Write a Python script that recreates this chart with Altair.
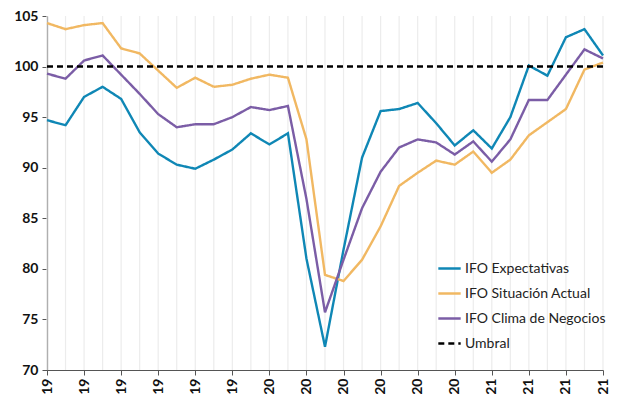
import altair as alt
import pandas as pd

# Monthly, Jan 2019 .. Jul 2021
months = ["2019-01","2019-02","2019-03","2019-04","2019-05","2019-06","2019-07","2019-08",
          "2019-09","2019-10","2019-11","2019-12","2020-01","2020-02","2020-03","2020-04",
          "2020-05","2020-06","2020-07","2020-08","2020-09","2020-10","2020-11","2020-12",
          "2021-01","2021-02","2021-03","2021-04","2021-05","2021-06","2021-07"]
tick_labels = ["19","19","19","19","19","19","20","20","20","20","20","20","21","21","21","21"]

expectativas = [94.7, 94.2, 97.0, 98.0, 96.8, 93.5, 91.4, 90.3, 89.9, 90.8, 91.8, 93.4,
                92.3, 93.4, 81.0, 72.3, 81.9, 91.0, 95.6, 95.8, 96.4, 94.4, 92.2, 93.7,
                91.9, 95.0, 100.1, 99.1, 102.9, 103.7, 101.1]
situacion = [104.3, 103.7, 104.1, 104.3, 101.8, 101.3, 99.6, 97.9, 98.9, 98.0, 98.2, 98.8,
             99.2, 98.9, 92.8, 79.4, 78.8, 80.9, 84.2, 88.2, 89.5, 90.7, 90.3, 91.6,
             89.5, 90.8, 93.2, 94.5, 95.8, 99.7, 100.4]
clima = [99.3, 98.8, 100.6, 101.1, 99.2, 97.3, 95.3, 94.0, 94.3, 94.3, 95.0, 96.0,
         95.7, 96.1, 86.9, 75.7, 80.9, 86.0, 89.6, 92.0, 92.8, 92.5, 91.3, 92.6,
         90.6, 92.8, 96.7, 96.7, 99.2, 101.7, 100.8]
umbral = [100.0] * len(months)

series_names = ["IFO Expectativas", "IFO Situación Actual", "IFO Clima de Negocios", "Umbral"]
series_values = [expectativas, situacion, clima, umbral]
colors = ["#0f87b5", "#f1b862", "#7b5da6", "#000000"]
dashes = [[1, 0], [1, 0], [1, 0], [6, 4]]

rows = []
for name, vals in zip(series_names, series_values):
    for i, (m, v) in enumerate(zip(months, vals)):
        rows.append({"i": i, "month": m, "serie": name, "valor": v})
df = pd.DataFrame(rows)
grid_df = pd.DataFrame({"i": list(range(len(months)))})

label_expr = "[" + ",".join("'" + t + "'" for t in tick_labels) + "][round(datum.value/2)]"

xscale = alt.Scale(domain=[0, len(months) - 1], nice=False, zero=False)
xaxis = alt.Axis(values=list(range(0, len(months), 2)), labelExpr=label_expr,
                 labelAngle=-90, labelAlign="right", labelBaseline="middle",
                 title=None, grid=False, tickSize=5, labelPadding=3)

grid = alt.Chart(grid_df).mark_rule(color="#ececec", strokeWidth=1.2).encode(
    x=alt.X("i:Q", scale=xscale, axis=xaxis)
)

lines = alt.Chart(df).mark_line(strokeWidth=2.4).encode(
    x=alt.X("i:Q", scale=xscale, axis=xaxis),
    y=alt.Y("valor:Q", scale=alt.Scale(domain=[70, 105], nice=False, zero=False),
            axis=alt.Axis(values=list(range(70, 106, 5)), title=None, grid=False,
                          tickSize=5, labelPadding=4)),
    color=alt.Color("serie:N", scale=alt.Scale(domain=series_names, range=colors),
                    legend=alt.Legend(title=None, orient="none", legendX=390, legendY=240,
                                      symbolType="stroke", symbolSize=500,
                                      symbolStrokeWidth=2.4, labelFontSize=14,
                                      labelFont="Lato", labelColor="#222222",
                                      rowPadding=5, labelOffset=3)),
    strokeDash=alt.StrokeDash("serie:N", scale=alt.Scale(domain=series_names, range=dashes),
                              legend=alt.Legend(title=None, orient="none", legendX=390, legendY=240)),
    order=alt.Order("i:Q"),
)

chart = alt.layer(grid, lines).properties(
    width=556, height=354,
    autosize=alt.AutoSizeParams(type="none"),
    padding={"left": 39, "top": 8, "right": 9, "bottom": 24},
).configure_view(stroke=None).configure_axis(
    labelFont="Lato", labelFontSize=14, labelFontWeight="bold", labelColor="#111111",
    domainColor="#555555", tickColor="#555555", domainWidth=1.2,
)

chart.save("out.html", embed_options={"renderer": "svg", "actions": False})
